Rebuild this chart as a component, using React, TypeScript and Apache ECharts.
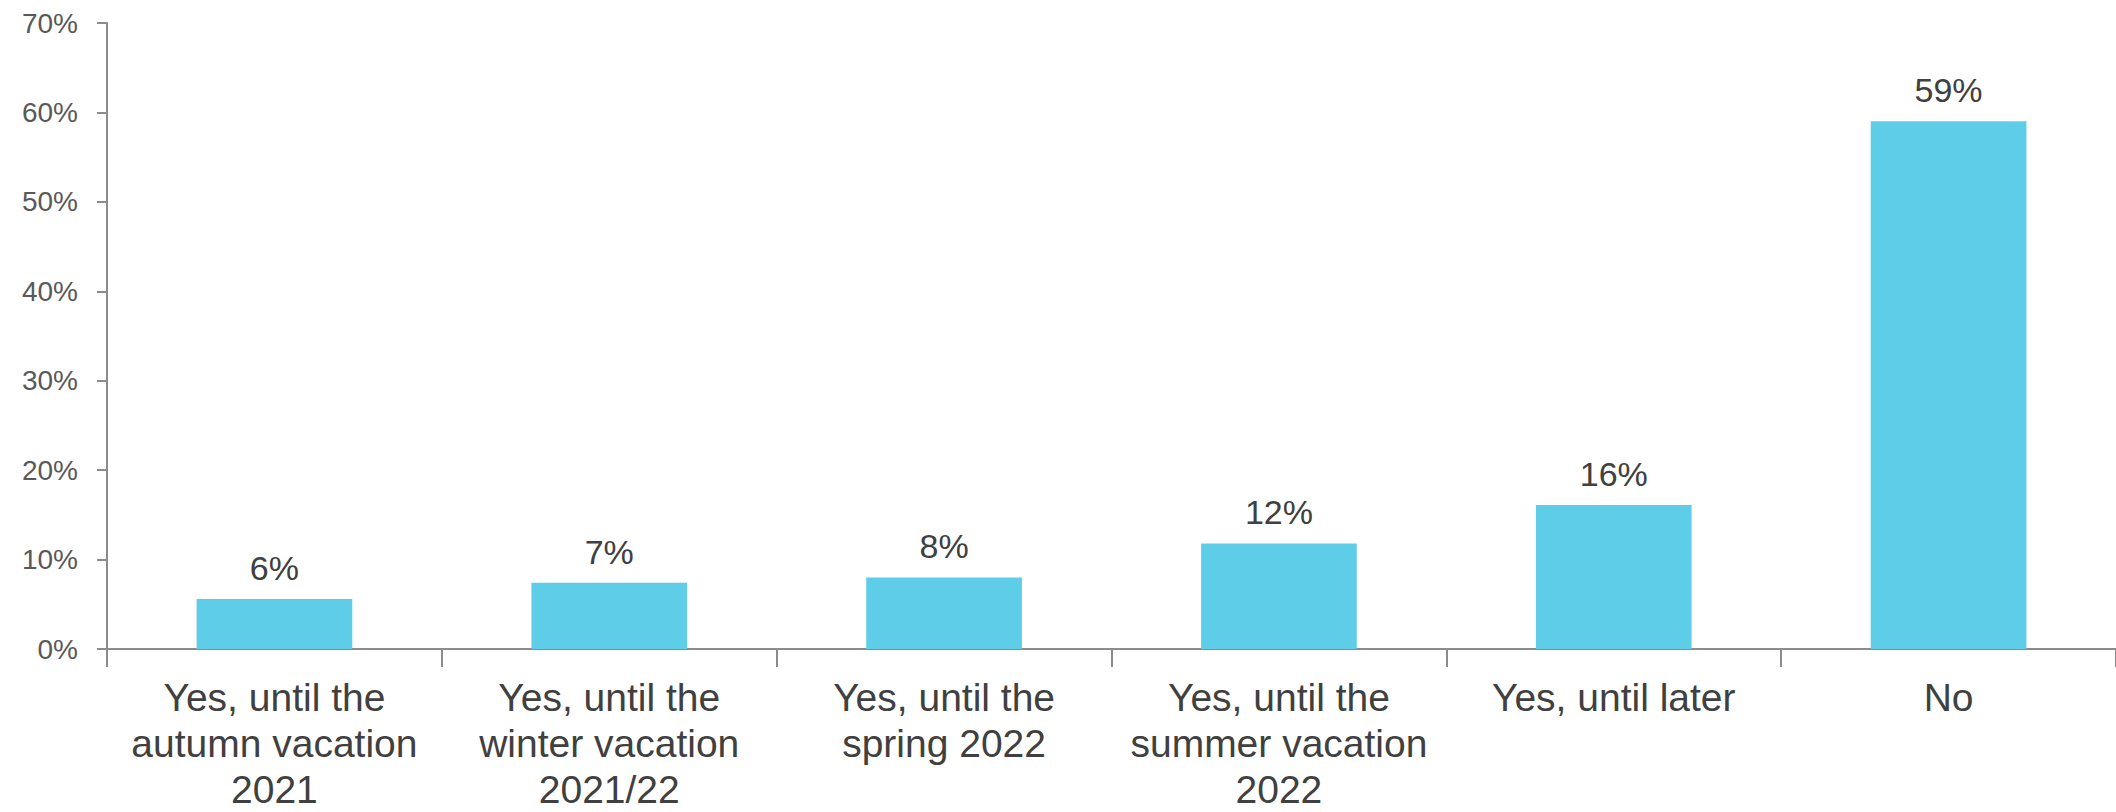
import React, { useEffect, useRef } from "react";
import * as echarts from "echarts";

const categories = [
  "Yes, until the\nautumn vacation\n2021",
  "Yes, until the\nwinter vacation\n2021/22",
  "Yes, until the\nspring 2022",
  "Yes, until the\nsummer vacation\n2022",
  "Yes, until later",
  "No",
];
const values = [5.6, 7.4, 8.0, 11.8, 16.1, 59.0];
const valueLabels = ["6%", "7%", "8%", "12%", "16%", "59%"];
const yTicks = { min: 0, max: 70, interval: 10 };

export default function App() {
  const ref = useRef<HTMLDivElement>(null);
  useEffect(() => {
    if (!ref.current) return;
    const chart = echarts.init(ref.current, undefined, { renderer: "svg" });
    const font = "Arial, 'Liberation Sans', Helvetica, sans-serif";
    chart.setOption({
      animation: false,
      grid: { left: 107, right: 0, top: 23, bottom: 161, containLabel: false },
      xAxis: {
        type: "category",
        data: categories,
        axisLine: { show: true, lineStyle: { color: "#8c8c8c", width: 2 } },
        axisTick: { show: true, alignWithLabel: false, length: 18, lineStyle: { color: "#8c8c8c", width: 2 } },
        axisLabel: {
          interval: 0,
          margin: 25,
          fontFamily: font,
          fontSize: 39,
          lineHeight: 46,
          color: "#404040",
        },
      },
      yAxis: {
        type: "value",
        min: yTicks.min,
        max: yTicks.max,
        interval: yTicks.interval,
        splitLine: { show: false },
        axisLine: { show: true, lineStyle: { color: "#8c8c8c", width: 2 } },
        axisTick: { show: true, length: 10, lineStyle: { color: "#8c8c8c", width: 2 } },
        axisLabel: {
          margin: 29,
          fontFamily: font,
          fontSize: 28,
          color: "#595959",
          formatter: (v: number) => `${v}%`,
        },
      },
      series: [
        {
          type: "bar",
          data: values,
          barWidth: "46.5%",
          itemStyle: { color: "#5ecde8" },
          label: {
            show: true,
            position: "top",
            distance: 14,
            fontFamily: font,
            fontSize: 34,
            color: "#404040",
            formatter: (p: any) => valueLabels[p.dataIndex],
          },
        },
      ],
    });
    return () => chart.dispose();
  }, []);
  return (
    <div
      ref={ref}
      style={{ position: "absolute", left: 0, top: 0, width: 2116, height: 812, background: "#fff" }}
    />
  );
}
